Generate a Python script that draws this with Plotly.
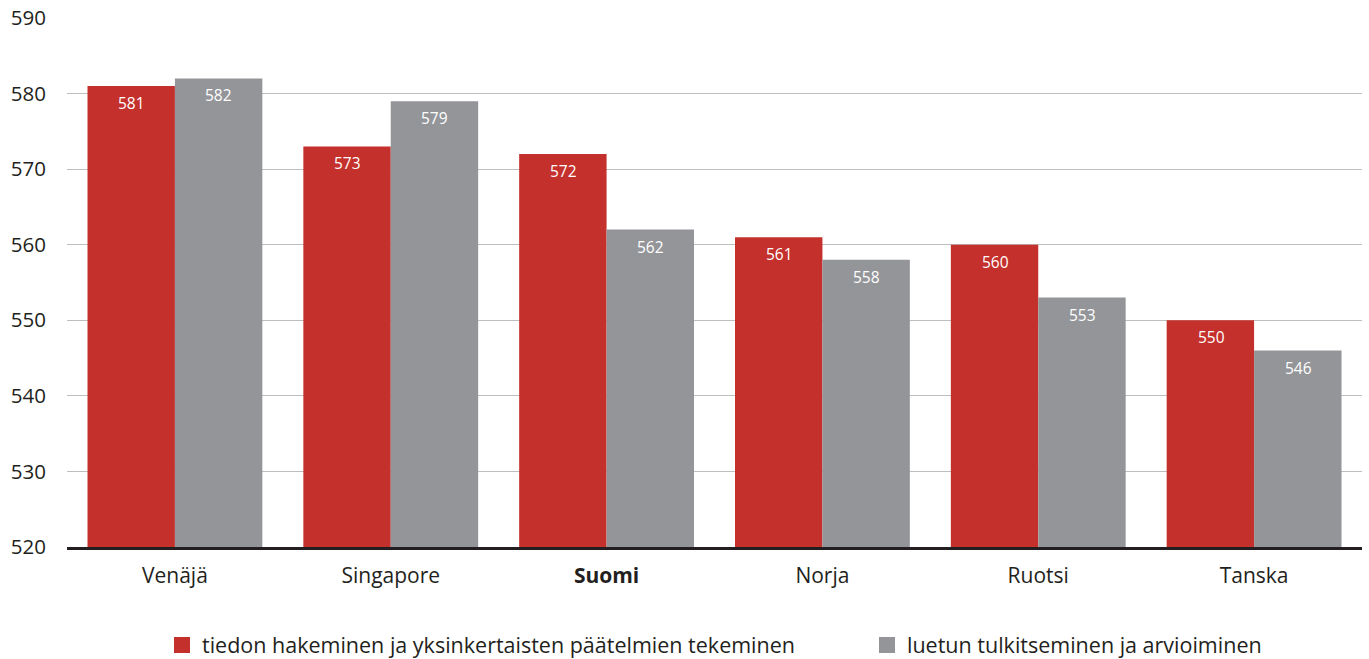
import plotly.graph_objects as go

countries = ["Venäjä", "Singapore", "Suomi", "Norja", "Ruotsi", "Tanska"]
tick_text = ["Venäjä", "Singapore", "<b>Suomi</b>", "Norja", "Ruotsi", "Tanska"]
haku = [581, 573, 572, 561, 560, 550]
tulkinta = [582, 579, 562, 558, 553, 546]
series_names = [
    "tiedon hakeminen ja yksinkertaisten päätelmien tekeminen",
    "luetun tulkitseminen ja arvioiminen",
]
y_ticks = [520, 530, 540, 550, 560, 570, 580, 590]

RED = "#C4302B"
GREY = "#949599"
FONT = "Open Sans"
W, H = 1369, 659

fig = go.Figure()
for vals, col, name, leg in [(haku, RED, series_names[0], "legend"),
                             (tulkinta, GREY, series_names[1], "legend2")]:
    fig.add_trace(go.Bar(
        x=countries, y=[v - 520 for v in vals], base=520,
        marker=dict(color=col, line=dict(width=0)),
        showlegend=False, hoverinfo="skip",
    ))
    # legend entry with a larger square swatch
    fig.add_trace(go.Scatter(
        x=[None], y=[None], mode="markers", name=name, legend=leg,
        marker=dict(symbol="square", size=19, color=col),
    ))

# value labels just inside the top of each bar
for vals, shift in [(haku, -43), (tulkinta, 44)]:
    for c, v in zip(countries, vals):
        fig.add_annotation(
            x=c, y=v, text=str(v), showarrow=False,
            xshift=shift, yshift=-17, yanchor="middle",
            font=dict(family=FONT, size=15.5, color="white"),
        )

legend_common = dict(
    orientation="h", xref="container", yref="container",
    xanchor="left", yanchor="middle", y=14 / H,
    font=dict(family=FONT, size=21.5, color="#231f20"),
    itemsizing="trace", bgcolor="rgba(0,0,0,0)",
)

fig.update_layout(
    width=W, height=H,
    margin=dict(l=67, r=7, t=18, b=112, autoexpand=False),
    paper_bgcolor="white", plot_bgcolor="white",
    barmode="group", bargap=0.19, bargroupgap=0,
    font=dict(family=FONT, color="#231f20"),
    legend=dict(x=162 / W, **legend_common),
    legend2=dict(x=867 / W, **legend_common),
    xaxis=dict(
        tickmode="array", tickvals=countries, ticktext=tick_text,
        tickfont=dict(family=FONT, size=21, color="#231f20"),
        showgrid=False, showline=True, linecolor="#231f20", linewidth=2.5,
        ticks="", fixedrange=True, ticklabelstandoff=8,
    ),
    yaxis=dict(
        range=[520, 590], tickvals=y_ticks,
        tickfont=dict(family=FONT, size=20.5, color="#231f20"),
        showgrid=True, gridcolor="#bcbec0", gridwidth=1,
        zeroline=False, showline=False, ticks="",
        ticklabelstandoff=20,
    ),
)

fig.write_html("out.html")
